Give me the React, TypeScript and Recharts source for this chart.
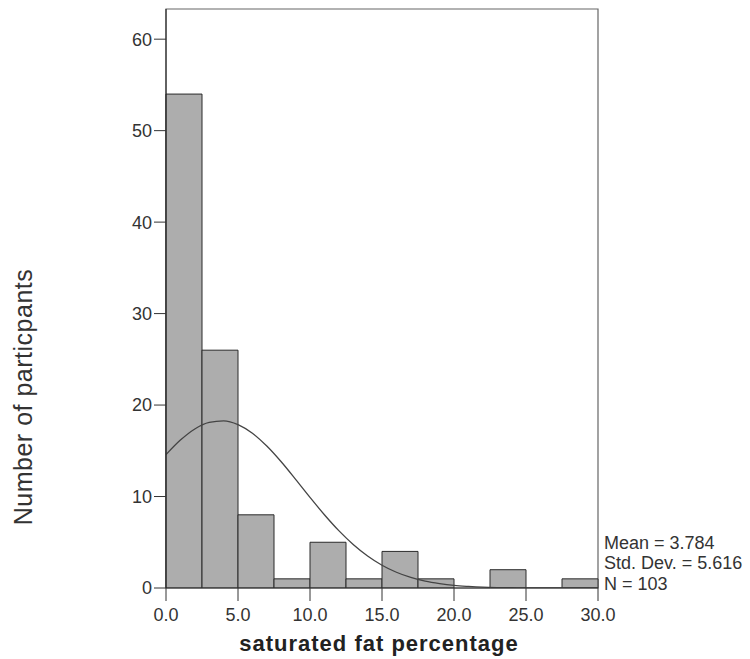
import React from 'react';
import { ComposedChart, Bar, Line, XAxis, YAxis, ReferenceArea } from 'recharts';

const binLabels = ['0-2.5', '2.5-5', '5-7.5', '7.5-10', '10-12.5', '12.5-15', '15-17.5', '17.5-20', '20-22.5', '22.5-25', '25-27.5', '27.5-30'];
const binCounts = [54, 26, 8, 1, 5, 1, 4, 1, 0, 2, 0, 1];

const curveX = [0, 1, 2, 3, 4, 5, 6, 7, 8, 9, 10, 11, 12, 13, 14, 15, 16, 17, 18, 19, 20, 21, 22, 23, 24, 25, 26, 27, 28, 29, 30];
const curveY = [14.58, 16.17, 17.39, 18.11, 18.28, 17.87, 16.92, 15.52, 13.8, 11.88, 9.91, 8.01, 6.27, 4.76, 3.5, 2.49, 1.72, 1.15, 0.74, 0.47, 0.28, 0.17, 0.09, 0.05, 0.03, 0.01, 0.01, 0, 0, 0, 0];

const xTicks = [0, 5, 10, 15, 20, 25, 30];
const yTicks = [0, 10, 20, 30, 40, 50, 60];
const yMax = 63.3;

const statLines = ['Mean = 3.784', 'Std. Dev. = 5.616', 'N = 103'];

const binData = binLabels.map((bin, i) => ({ bin, count: binCounts[i] }));
const curveData = curveX.map((x, i) => ({ x, y: curveY[i] }));

const FONT = '"Liberation Sans", Arial, Helvetica, sans-serif';

export default function App() {
  return (
    <div style={{ position: 'absolute', left: 0, top: 0, width: 750, height: 659, background: '#fff' }}>
      <ComposedChart
        width={750}
        height={659}
        data={binData}
        margin={{ top: 9, right: 152, bottom: 31, left: 100 }}
        barCategoryGap={0}
        barGap={0}
      >
        <XAxis xAxisId="bins" dataKey="bin" type="category" orientation="top" height={0} hide />
        <XAxis
          xAxisId="num"
          dataKey="x"
          type="number"
          domain={[0, 30]}
          ticks={xTicks}
          allowDataOverflow
          height={40}
          tickSize={13}
          tickMargin={7}
          tickFormatter={(v: number) => v.toFixed(1)}
          tick={{ fontSize: 18, fill: '#333', fontFamily: FONT }}
          axisLine={{ stroke: '#333' }}
          tickLine={{ stroke: '#333' }}
        />
        <YAxis
          type="number"
          domain={[0, yMax]}
          ticks={yTicks}
          allowDataOverflow
          width={66}
          tickSize={12}
          tickMargin={2}
          tick={{ fontSize: 18, fill: '#333', fontFamily: FONT }}
          axisLine={{ stroke: '#222' }}
          tickLine={{ stroke: '#333' }}
        />
        <Bar
          xAxisId="bins"
          dataKey="count"
          fill="#adadad"
          stroke="#2a2a2a"
          strokeWidth={1}
          isAnimationActive={false}
        />
        <Line
          xAxisId="num"
          data={curveData}
          dataKey="y"
          type="monotone"
          stroke="#444"
          strokeWidth={1.3}
          dot={false}
          activeDot={false}
          isAnimationActive={false}
        />
        <ReferenceArea
          xAxisId="num"
          x1={0}
          x2={30}
          y1={0}
          y2={yMax}
          fill="none"
          fillOpacity={0}
          stroke="#666"
          strokeWidth={1.2}
          ifOverflow="visible"
        />
      </ComposedChart>
      <svg
        width={750}
        height={659}
        style={{ position: 'absolute', left: 0, top: 0, pointerEvents: 'none' }}
      >
        <text
          x={23}
          y={397}
          transform="rotate(-90 23 397)"
          textAnchor="middle"
          dominantBaseline="central"
          fontFamily={FONT}
          fontSize={25}
          letterSpacing={0.5}
          fill="#333"
        >
          Number of particpants
        </text>
        <text
          x={379}
          y={651}
          textAnchor="middle"
          fontFamily={FONT}
          fontSize={22}
          fontWeight="bold"
          letterSpacing={1}
          fill="#222"
        >
          saturated fat percentage
        </text>
        {statLines.map((s, i) => (
          <text
            key={s}
            x={604}
            y={[549, 569, 590][i]}
            fontFamily={FONT}
            fontSize={18}
            fill="#333"
          >
            {s}
          </text>
        ))}
      </svg>
    </div>
  );
}
